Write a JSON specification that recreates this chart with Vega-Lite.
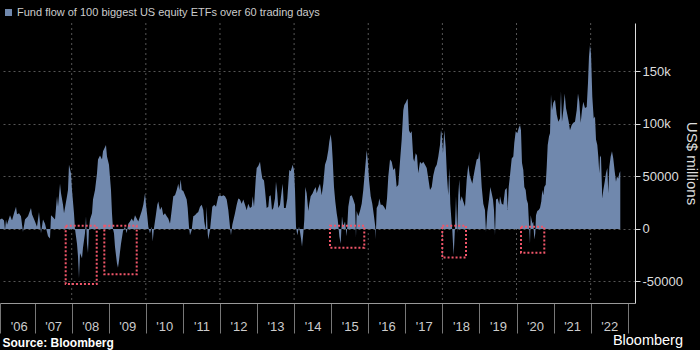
{
  "$schema": "https://vega.github.io/schema/vega-lite/v6.json",
  "width": 635,
  "height": 280,
  "autosize": {"type": "none"},
  "padding": {"left": 0, "top": 23, "right": 65, "bottom": 47},
  "background": "#000000",
  "config": {"view": {"stroke": null}, "font": "Liberation Sans"},
  "title": {"text": "Bloomberg", "orient": "bottom", "anchor": "end", "frame": "group", "fontSize": 14.5, "fontWeight": "normal", "color": "#ffffff", "dx": 48, "dy": -14, "offset": 0},
  "resolve": {"axis": {"x": "independent"}},
  "datasets": {
    "gridYears": [
      {"year": 2008}, {"year": 2010}, {"year": 2012}, {"year": 2014}, {"year": 2016}, {"year": 2018}, {"year": 2020}, {"year": 2022}
    ],
    "flows": [
      {"year": 2006.066, "flow": 9000}, {"year": 2006.120, "flow": 10000}, {"year": 2006.174, "flow": 8000}, {"year": 2006.201, "flow": -1000},
      {"year": 2006.228, "flow": 9000}, {"year": 2006.255, "flow": 4000}, {"year": 2006.282, "flow": 7000}, {"year": 2006.336, "flow": 13000},
      {"year": 2006.390, "flow": 8000}, {"year": 2006.444, "flow": 15000}, {"year": 2006.498, "flow": 21000}, {"year": 2006.525, "flow": 14000},
      {"year": 2006.579, "flow": 15000}, {"year": 2006.632, "flow": 12000}, {"year": 2006.686, "flow": -3000}, {"year": 2006.740, "flow": 9000},
      {"year": 2006.821, "flow": 12000}, {"year": 2006.902, "flow": 20000}, {"year": 2006.929, "flow": 14000}, {"year": 2007.010, "flow": 7000},
      {"year": 2007.064, "flow": 2000}, {"year": 2007.118, "flow": 16000}, {"year": 2007.172, "flow": -4000}, {"year": 2007.226, "flow": 9000},
      {"year": 2007.280, "flow": 5000}, {"year": 2007.361, "flow": -7000}, {"year": 2007.415, "flow": -9000}, {"year": 2007.442, "flow": 13000},
      {"year": 2007.496, "flow": 11000}, {"year": 2007.550, "flow": 9000}, {"year": 2007.604, "flow": 31000}, {"year": 2007.631, "flow": 21000},
      {"year": 2007.685, "flow": 43000}, {"year": 2007.712, "flow": 34000}, {"year": 2007.766, "flow": 23000}, {"year": 2007.793, "flow": 15000},
      {"year": 2007.873, "flow": 31000}, {"year": 2007.900, "flow": 37000}, {"year": 2007.927, "flow": 61000}, {"year": 2007.981, "flow": 53000},
      {"year": 2008.008, "flow": 37000}, {"year": 2008.062, "flow": 15000}, {"year": 2008.089, "flow": 0}, {"year": 2008.143, "flow": -14000},
      {"year": 2008.170, "flow": -26000}, {"year": 2008.197, "flow": -47000}, {"year": 2008.224, "flow": -23000}, {"year": 2008.278, "flow": -28000},
      {"year": 2008.305, "flow": -18000}, {"year": 2008.359, "flow": -4000}, {"year": 2008.386, "flow": 12000}, {"year": 2008.413, "flow": -14000},
      {"year": 2008.440, "flow": -23000}, {"year": 2008.467, "flow": 0}, {"year": 2008.494, "flow": 9000}, {"year": 2008.548, "flow": 15000},
      {"year": 2008.575, "flow": 28000}, {"year": 2008.629, "flow": 37000}, {"year": 2008.683, "flow": 53000}, {"year": 2008.710, "flow": 66000},
      {"year": 2008.764, "flow": 70000}, {"year": 2008.818, "flow": 66000}, {"year": 2008.845, "flow": 74000}, {"year": 2008.925, "flow": 80000},
      {"year": 2008.952, "flow": 69000}, {"year": 2009.006, "flow": 61000}, {"year": 2009.060, "flow": 37000}, {"year": 2009.087, "flow": 15000},
      {"year": 2009.114, "flow": 0}, {"year": 2009.141, "flow": -4000}, {"year": 2009.168, "flow": -17000}, {"year": 2009.222, "flow": -33000},
      {"year": 2009.249, "flow": -37000}, {"year": 2009.276, "flow": -30000}, {"year": 2009.330, "flow": -14000}, {"year": 2009.384, "flow": -2000},
      {"year": 2009.438, "flow": 2000}, {"year": 2009.484, "flow": -4000}, {"year": 2009.527, "flow": 5000}, {"year": 2009.573, "flow": 7000},
      {"year": 2009.619, "flow": 10000}, {"year": 2009.662, "flow": 7000}, {"year": 2009.708, "flow": 13000}, {"year": 2009.754, "flow": 10000},
      {"year": 2009.797, "flow": 7000}, {"year": 2009.843, "flow": 12000}, {"year": 2009.889, "flow": 17000}, {"year": 2009.932, "flow": 23000},
      {"year": 2009.978, "flow": 34000}, {"year": 2010.005, "flow": 23000}, {"year": 2010.040, "flow": 12000}, {"year": 2010.067, "flow": 2000},
      {"year": 2010.112, "flow": -4000}, {"year": 2010.158, "flow": 2000}, {"year": 2010.185, "flow": -12000}, {"year": 2010.220, "flow": 1000},
      {"year": 2010.266, "flow": 12000}, {"year": 2010.309, "flow": 23000}, {"year": 2010.336, "flow": 26000}, {"year": 2010.382, "flow": 18000},
      {"year": 2010.428, "flow": 21000}, {"year": 2010.471, "flow": 13000}, {"year": 2010.517, "flow": 15000}, {"year": 2010.563, "flow": 12000},
      {"year": 2010.606, "flow": 10000}, {"year": 2010.652, "flow": 5000}, {"year": 2010.698, "flow": 18000}, {"year": 2010.741, "flow": 31000},
      {"year": 2010.787, "flow": 32000}, {"year": 2010.833, "flow": 37000}, {"year": 2010.876, "flow": 43000}, {"year": 2010.903, "flow": 37000},
      {"year": 2010.941, "flow": 47000}, {"year": 2010.968, "flow": 37000}, {"year": 2011.011, "flow": 36000}, {"year": 2011.057, "flow": 32000},
      {"year": 2011.102, "flow": 28000}, {"year": 2011.129, "flow": 20000}, {"year": 2011.164, "flow": 2000}, {"year": 2011.191, "flow": -6000},
      {"year": 2011.237, "flow": -1000}, {"year": 2011.280, "flow": 12000}, {"year": 2011.326, "flow": 13000}, {"year": 2011.372, "flow": 15000},
      {"year": 2011.415, "flow": 16000}, {"year": 2011.461, "flow": 21000}, {"year": 2011.507, "flow": 23000}, {"year": 2011.550, "flow": 18000},
      {"year": 2011.577, "flow": 7000}, {"year": 2011.615, "flow": -1000}, {"year": 2011.642, "flow": 21000}, {"year": 2011.669, "flow": -4000},
      {"year": 2011.685, "flow": -10000}, {"year": 2011.731, "flow": -1000}, {"year": 2011.793, "flow": 21000}, {"year": 2011.847, "flow": 23000},
      {"year": 2011.893, "flow": 21000}, {"year": 2011.955, "flow": 31000}, {"year": 2012.001, "flow": 32000}, {"year": 2012.047, "flow": 31000},
      {"year": 2012.090, "flow": 32000}, {"year": 2012.136, "flow": 31000}, {"year": 2012.181, "flow": 28000}, {"year": 2012.225, "flow": 18000},
      {"year": 2012.270, "flow": 2000}, {"year": 2012.297, "flow": -6000}, {"year": 2012.333, "flow": 4000}, {"year": 2012.405, "flow": 15000},
      {"year": 2012.451, "flow": 23000}, {"year": 2012.494, "flow": 29000}, {"year": 2012.540, "flow": 28000}, {"year": 2012.586, "flow": 24000},
      {"year": 2012.629, "flow": 28000}, {"year": 2012.675, "flow": 23000}, {"year": 2012.721, "flow": 18000}, {"year": 2012.764, "flow": 24000},
      {"year": 2012.810, "flow": 20000}, {"year": 2012.856, "flow": 21000}, {"year": 2012.883, "flow": 31000}, {"year": 2012.918, "flow": 21000},
      {"year": 2012.964, "flow": 47000}, {"year": 2012.991, "flow": 58000}, {"year": 2013.034, "flow": 60000}, {"year": 2013.080, "flow": 64000},
      {"year": 2013.107, "flow": 56000}, {"year": 2013.142, "flow": 48000}, {"year": 2013.188, "flow": 46000}, {"year": 2013.215, "flow": 37000},
      {"year": 2013.260, "flow": 20000}, {"year": 2013.304, "flow": 21000}, {"year": 2013.331, "flow": 31000}, {"year": 2013.368, "flow": 32000},
      {"year": 2013.403, "flow": 18000}, {"year": 2013.439, "flow": 20000}, {"year": 2013.484, "flow": 29000}, {"year": 2013.511, "flow": 45000},
      {"year": 2013.546, "flow": 34000}, {"year": 2013.573, "flow": 20000}, {"year": 2013.619, "flow": 23000}, {"year": 2013.665, "flow": 36000},
      {"year": 2013.692, "flow": 43000}, {"year": 2013.727, "flow": 20000}, {"year": 2013.773, "flow": 20000}, {"year": 2013.816, "flow": 29000},
      {"year": 2013.870, "flow": 56000}, {"year": 2013.908, "flow": 55000}, {"year": 2013.962, "flow": 61000}, {"year": 2013.997, "flow": 56000},
      {"year": 2014.024, "flow": 37000}, {"year": 2014.051, "flow": 2000}, {"year": 2014.086, "flow": -6000}, {"year": 2014.132, "flow": 2000},
      {"year": 2014.159, "flow": -3000}, {"year": 2014.186, "flow": -9000}, {"year": 2014.213, "flow": -17000}, {"year": 2014.248, "flow": -4000},
      {"year": 2014.275, "flow": 9000}, {"year": 2014.302, "flow": 40000}, {"year": 2014.339, "flow": 34000}, {"year": 2014.383, "flow": 17000},
      {"year": 2014.410, "flow": 24000}, {"year": 2014.447, "flow": 31000}, {"year": 2014.501, "flow": 34000}, {"year": 2014.536, "flow": 37000},
      {"year": 2014.582, "flow": 40000}, {"year": 2014.609, "flow": 34000}, {"year": 2014.653, "flow": 39000}, {"year": 2014.698, "flow": 43000},
      {"year": 2014.744, "flow": 32000}, {"year": 2014.787, "flow": 43000}, {"year": 2014.833, "flow": 61000}, {"year": 2014.879, "flow": 66000},
      {"year": 2014.922, "flow": 75000}, {"year": 2014.949, "flow": 83000}, {"year": 2014.987, "flow": 90000}, {"year": 2015.014, "flow": 82000},
      {"year": 2015.041, "flow": 66000}, {"year": 2015.076, "flow": 40000}, {"year": 2015.111, "flow": 26000}, {"year": 2015.149, "flow": 15000},
      {"year": 2015.176, "flow": 9000}, {"year": 2015.203, "flow": 0}, {"year": 2015.219, "flow": -7000}, {"year": 2015.257, "flow": -14000},
      {"year": 2015.292, "flow": 12000}, {"year": 2015.327, "flow": 2000}, {"year": 2015.373, "flow": 7000}, {"year": 2015.419, "flow": -7000},
      {"year": 2015.462, "flow": 21000}, {"year": 2015.508, "flow": 31000}, {"year": 2015.554, "flow": 32000}, {"year": 2015.597, "flow": 28000},
      {"year": 2015.643, "flow": 23000}, {"year": 2015.669, "flow": -8000}, {"year": 2015.688, "flow": 17000}, {"year": 2015.732, "flow": 12000},
      {"year": 2015.777, "flow": 17000}, {"year": 2015.823, "flow": 24000}, {"year": 2015.866, "flow": 37000}, {"year": 2015.912, "flow": 56000},
      {"year": 2015.958, "flow": 75000}, {"year": 2015.985, "flow": 66000}, {"year": 2016.020, "flow": 47000}, {"year": 2016.066, "flow": 31000},
      {"year": 2016.109, "flow": 24000}, {"year": 2016.155, "flow": 12000}, {"year": 2016.190, "flow": 2000}, {"year": 2016.201, "flow": -10000},
      {"year": 2016.228, "flow": 20000}, {"year": 2016.271, "flow": 23000}, {"year": 2016.298, "flow": 29000}, {"year": 2016.336, "flow": 23000},
      {"year": 2016.379, "flow": 23000}, {"year": 2016.425, "flow": 21000}, {"year": 2016.471, "flow": 18000}, {"year": 2016.506, "flow": 29000},
      {"year": 2016.541, "flow": 50000}, {"year": 2016.587, "flow": 66000}, {"year": 2016.633, "flow": 64000}, {"year": 2016.676, "flow": 56000},
      {"year": 2016.722, "flow": 58000}, {"year": 2016.767, "flow": 40000}, {"year": 2016.811, "flow": 42000}, {"year": 2016.856, "flow": 64000},
      {"year": 2016.902, "flow": 85000}, {"year": 2016.945, "flow": 113000}, {"year": 2016.972, "flow": 118000}, {"year": 2017.010, "flow": 120000},
      {"year": 2017.045, "flow": 123000}, {"year": 2017.064, "flow": 124000}, {"year": 2017.099, "flow": 94000}, {"year": 2017.134, "flow": 91000},
      {"year": 2017.172, "flow": 93000}, {"year": 2017.215, "flow": 67000}, {"year": 2017.242, "flow": 64000}, {"year": 2017.280, "flow": 72000},
      {"year": 2017.315, "flow": 70000}, {"year": 2017.350, "flow": 53000}, {"year": 2017.396, "flow": 64000}, {"year": 2017.442, "flow": 62000},
      {"year": 2017.485, "flow": 64000}, {"year": 2017.531, "flow": 61000}, {"year": 2017.577, "flow": 58000}, {"year": 2017.620, "flow": 48000},
      {"year": 2017.666, "flow": 37000}, {"year": 2017.712, "flow": 40000}, {"year": 2017.755, "flow": 51000}, {"year": 2017.801, "flow": 58000},
      {"year": 2017.847, "flow": 61000}, {"year": 2017.890, "flow": 69000}, {"year": 2017.935, "flow": 80000}, {"year": 2017.962, "flow": 94000},
      {"year": 2017.981, "flow": 91000}, {"year": 2018.016, "flow": 72000}, {"year": 2018.051, "flow": 94000}, {"year": 2018.089, "flow": 78000},
      {"year": 2018.124, "flow": 50000}, {"year": 2018.159, "flow": 32000}, {"year": 2018.186, "flow": 58000}, {"year": 2018.213, "flow": 24000},
      {"year": 2018.251, "flow": 5000}, {"year": 2018.267, "flow": -1000}, {"year": 2018.286, "flow": -14000}, {"year": 2018.305, "flow": -25000},
      {"year": 2018.340, "flow": 2000}, {"year": 2018.367, "flow": 31000}, {"year": 2018.402, "flow": -4000}, {"year": 2018.429, "flow": 32000},
      {"year": 2018.456, "flow": 47000}, {"year": 2018.483, "flow": 26000}, {"year": 2018.521, "flow": 31000}, {"year": 2018.564, "flow": 26000},
      {"year": 2018.610, "flow": 21000}, {"year": 2018.656, "flow": 47000}, {"year": 2018.699, "flow": 61000}, {"year": 2018.737, "flow": 51000},
      {"year": 2018.772, "flow": 47000}, {"year": 2018.807, "flow": 43000}, {"year": 2018.845, "flow": 51000}, {"year": 2018.880, "flow": 58000},
      {"year": 2018.925, "flow": 66000}, {"year": 2018.969, "flow": 67000}, {"year": 2018.996, "flow": 74000}, {"year": 2019.023, "flow": 63000},
      {"year": 2019.061, "flow": 40000}, {"year": 2019.104, "flow": 24000}, {"year": 2019.149, "flow": 18000}, {"year": 2019.176, "flow": -3000},
      {"year": 2019.212, "flow": 16000}, {"year": 2019.257, "flow": 28000}, {"year": 2019.293, "flow": 40000}, {"year": 2019.330, "flow": 34000},
      {"year": 2019.365, "flow": 28000}, {"year": 2019.392, "flow": 18000}, {"year": 2019.419, "flow": -6000}, {"year": 2019.446, "flow": 28000},
      {"year": 2019.492, "flow": 29000}, {"year": 2019.535, "flow": 23000}, {"year": 2019.554, "flow": 31000}, {"year": 2019.600, "flow": 24000},
      {"year": 2019.643, "flow": 23000}, {"year": 2019.689, "flow": 37000}, {"year": 2019.735, "flow": 39000}, {"year": 2019.762, "flow": 18000},
      {"year": 2019.789, "flow": 40000}, {"year": 2019.824, "flow": 51000}, {"year": 2019.870, "flow": 67000}, {"year": 2019.913, "flow": 69000},
      {"year": 2019.940, "flow": 82000}, {"year": 2019.978, "flow": 93000}, {"year": 2020.021, "flow": 91000}, {"year": 2020.059, "flow": 96000},
      {"year": 2020.094, "flow": 99000}, {"year": 2020.120, "flow": 94000}, {"year": 2020.147, "flow": 63000}, {"year": 2020.183, "flow": 56000},
      {"year": 2020.210, "flow": 40000}, {"year": 2020.247, "flow": 37000}, {"year": 2020.274, "flow": 28000}, {"year": 2020.309, "flow": 24000},
      {"year": 2020.336, "flow": 5000}, {"year": 2020.363, "flow": -14000}, {"year": 2020.382, "flow": 13000}, {"year": 2020.409, "flow": 8000},
      {"year": 2020.436, "flow": 5000}, {"year": 2020.452, "flow": 7000}, {"year": 2020.479, "flow": -10000}, {"year": 2020.506, "flow": -4000},
      {"year": 2020.525, "flow": 13000}, {"year": 2020.560, "flow": 17000}, {"year": 2020.598, "flow": 18000}, {"year": 2020.633, "flow": 20000},
      {"year": 2020.668, "flow": 26000}, {"year": 2020.695, "flow": 37000}, {"year": 2020.722, "flow": 32000}, {"year": 2020.749, "flow": 40000},
      {"year": 2020.787, "flow": 42000}, {"year": 2020.814, "flow": 59000}, {"year": 2020.841, "flow": 80000}, {"year": 2020.876, "flow": 88000},
      {"year": 2020.903, "flow": 91000}, {"year": 2020.930, "flow": 128000}, {"year": 2020.957, "flow": 113000}, {"year": 2020.992, "flow": 120000},
      {"year": 2021.038, "flow": 123000}, {"year": 2021.084, "flow": 109000}, {"year": 2021.127, "flow": 102000}, {"year": 2021.173, "flow": 105000},
      {"year": 2021.199, "flow": 131000}, {"year": 2021.226, "flow": 102000}, {"year": 2021.262, "flow": 113000}, {"year": 2021.299, "flow": 129000},
      {"year": 2021.334, "flow": 115000}, {"year": 2021.370, "flow": 109000}, {"year": 2021.408, "flow": 102000}, {"year": 2021.442, "flow": 94000},
      {"year": 2021.488, "flow": 99000}, {"year": 2021.532, "flow": 101000}, {"year": 2021.577, "flow": 102000}, {"year": 2021.623, "flow": 113000},
      {"year": 2021.658, "flow": 129000}, {"year": 2021.693, "flow": 121000}, {"year": 2021.731, "flow": 101000}, {"year": 2021.766, "flow": 113000},
      {"year": 2021.801, "flow": 121000}, {"year": 2021.847, "flow": 115000}, {"year": 2021.893, "flow": 116000}, {"year": 2021.928, "flow": 139000},
      {"year": 2021.955, "flow": 164000}, {"year": 2021.982, "flow": 175000}, {"year": 2022.009, "flow": 167000}, {"year": 2022.044, "flow": 126000},
      {"year": 2022.082, "flow": 105000}, {"year": 2022.117, "flow": 107000}, {"year": 2022.144, "flow": 85000}, {"year": 2022.179, "flow": 80000},
      {"year": 2022.206, "flow": 69000}, {"year": 2022.233, "flow": 53000}, {"year": 2022.252, "flow": 70000}, {"year": 2022.279, "flow": 68000},
      {"year": 2022.314, "flow": 29000}, {"year": 2022.341, "flow": 37000}, {"year": 2022.379, "flow": 45000}, {"year": 2022.413, "flow": 53000},
      {"year": 2022.449, "flow": 58000}, {"year": 2022.476, "flow": 34000}, {"year": 2022.503, "flow": 59000}, {"year": 2022.540, "flow": 69000},
      {"year": 2022.575, "flow": 74000}, {"year": 2022.610, "flow": 67000}, {"year": 2022.648, "flow": 55000}, {"year": 2022.683, "flow": 45000},
      {"year": 2022.710, "flow": 50000}, {"year": 2022.745, "flow": 48000}, {"year": 2022.772, "flow": 53000}, {"year": 2022.799, "flow": 55000}
    ],
    "boxes": [
      {"start": 2007.838, "end": 2008.675, "top": 3000, "bottom": -52400},
      {"start": 2008.880, "end": 2009.754, "top": 3000, "bottom": -43100},
      {"start": 2014.968, "end": 2015.893, "top": 3000, "bottom": -17800},
      {"start": 2017.997, "end": 2018.637, "top": 3000, "bottom": -27300},
      {"start": 2020.121, "end": 2020.749, "top": 2000, "bottom": -22600}
    ]
  },
  "layer": [
    {
      "data": {"name": "gridYears"},
      "mark": {"type": "rule", "stroke": "#555555", "strokeWidth": 1, "strokeDash": [2, 3]},
      "encoding": {
        "x": {
          "field": "year", "type": "quantitative",
          "axis": {"orient": "top", "domain": false, "ticks": false, "labels": false, "grid": false, "title": null}
        }
      }
    },
    {
      "data": {"name": "flows"},
      "mark": {"type": "area", "interpolate": "linear"},
      "encoding": {
        "x": {
          "field": "year", "type": "quantitative",
          "scale": {"domain": [2006.066, 2023.196], "nice": false, "zero": false},
          "axis": {
            "orient": "bottom",
            "values": [2006.07, 2007, 2008, 2009, 2010, 2011, 2012, 2013, 2014, 2015, 2016, 2017, 2018, 2019, 2020, 2021, 2022, 2023],
            "labelExpr": "datum.value >= 2023 ? '' : \"'\" + substring(toString(datum.value), 2, 4)",
            "labelOffset": 18.5, "labelPadding": -7, "labelBaseline": "middle", "labelAlign": "center",
            "labelFontSize": 13, "labelColor": "#cccccc", "labelFlush": false, "labelOverlap": false, "labelBound": false,
            "tickSize": 30, "tickColor": "#777777", "tickWidth": 1,
            "domainColor": "#999999", "domainWidth": 1,
            "grid": false,
            "title": "Source: Bloomberg", "titleX": 2, "titleY": 39, "titleAnchor": "start", "titleAlign": "left",
            "titleBaseline": "middle", "titleFontSize": 12, "titleFontWeight": "bold", "titleColor": "#ffffff"
          }
        },
        "y": {
          "field": "flow", "type": "quantitative",
          "scale": {"domain": [-70500, 196000], "nice": false, "zero": false},
          "axis": {
            "orient": "right",
            "values": [-50000, -25000, 0, 25000, 50000, 75000, 100000, 125000, 150000, 175000],
            "labelExpr": "datum.value % 50000 !== 0 ? '' : (datum.value >= 100000 ? (datum.value / 1000) + 'k' : toString(datum.value))",
            "labelFontSize": 13, "labelColor": "#dddddd", "labelPadding": 2, "labelBaseline": "middle", "labelAlign": "left",
            "labelOverlap": false, "labelBound": false, "labelFlush": false,
            "tickSize": 5, "tickColor": "#dddddd", "domainColor": "#dddddd",
            "grid": true, "gridColor": "#555555", "gridDash": [2, 3],
            "gridOpacity": {"condition": {"test": "datum.value % 50000 === 0", "value": 1}, "value": 0},
            "title": "US$ millions", "titleFontSize": 15, "titleFontWeight": "normal", "titleColor": "#dddddd",
            "titleAngle": 90, "titleX": 56, "titleY": 140, "titleAlign": "center", "titleBaseline": "middle"
          }
        },
        "y2": {"datum": 0},
        "color": {
          "datum": "Fund flow of 100 biggest US equity ETFs over 60 trading days",
          "type": "nominal",
          "scale": {"range": ["#7088ad"]},
          "legend": {
            "orient": "none", "legendX": 3, "legendY": -16, "title": null, "padding": 0,
            "symbolType": "square", "symbolSize": 49, "symbolStrokeWidth": 0,
            "labelFontSize": 11, "labelColor": "#cccccc", "labelOffset": 3, "labelLimit": 0
          }
        }
      }
    },
    {
      "data": {"name": "boxes"},
      "mark": {"type": "rect", "filled": false, "stroke": "#f0566a", "strokeWidth": 2, "strokeDash": [2, 2]},
      "encoding": {
        "x": {
          "field": "start", "type": "quantitative",
          "axis": {"orient": "top", "domain": false, "ticks": false, "labels": false, "grid": false, "title": null}
        },
        "x2": {"field": "end"},
        "y": {"field": "top", "type": "quantitative"},
        "y2": {"field": "bottom"}
      }
    }
  ]
}
